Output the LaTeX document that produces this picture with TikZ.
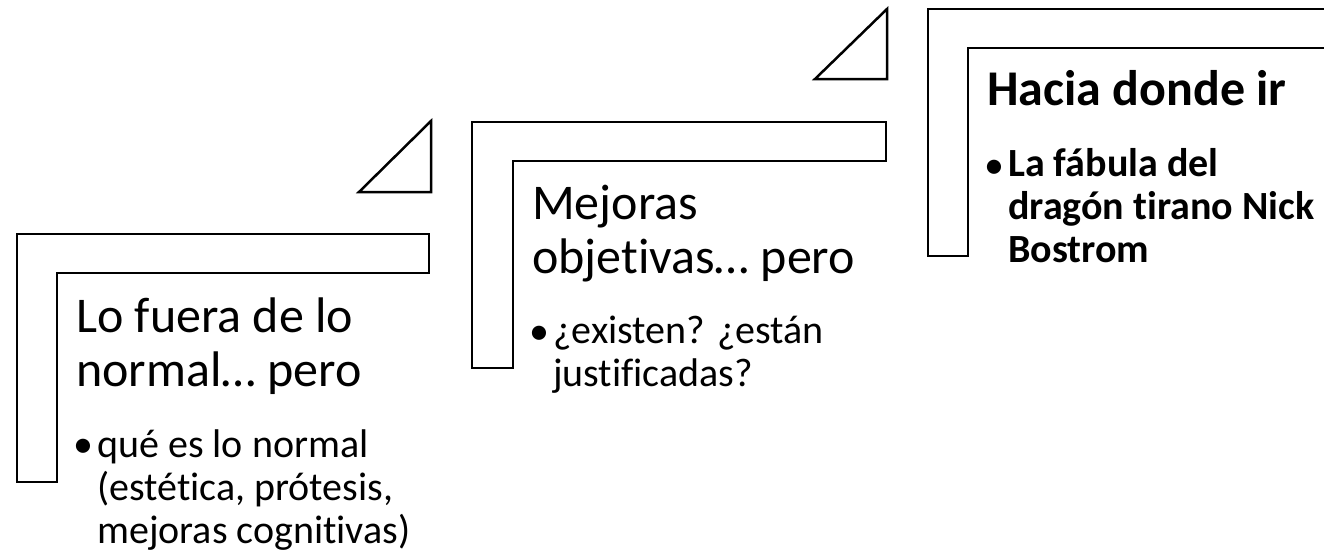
\documentclass[tikz,border=0pt]{standalone}
\usepackage{fontspec}
\setmainfont{Carlito}[Ligatures=NoCommon]
\usetikzlibrary{positioning}

\begin{document}
\begin{tikzpicture}[x=1pt,y=-1pt,% one unit is one pixel of the slide, y runs down
					every node/.style={
						inner sep=0pt,
						align=left,		% so that "\\" breaks the line
						anchor=base west	% base = baseline of the last line
						},
					steptitle/.style={font=\fontsize{50}{54}\selectfont},
					stepitem/.style={font=\fontsize{40}{43}\selectfont},
					stepline/.style={draw=black,line width=2.5pt,line join=miter}
					]
\useasboundingbox (0,0) rectangle (1324,552);
\clip (0,0) rectangle (1324,552);
% the three steps
\path[stepline] (17,234) -- (429,234) -- (429,273) -- (57,273) -- (57,482) -- (17,482) -- cycle;
\path[stepline] (472,122) -- (886,122) -- (886,161) -- (513,161) -- (513,368) -- (472,368) -- cycle;
\path[stepline] (928,9) -- (1340,9) -- (1340,48) -- (968,48) -- (968,256) -- (928,256) -- cycle;
% the small triangles
\path[stepline] (359,192) -- (431,121) -- (431,192) -- cycle;
\path[stepline] (815,79) -- (887,9) -- (887,79) -- cycle;
% texts
\node[steptitle](T1) at (76,386){Lo fuera de lo\\normal… pero};
\node[stepitem](D1) at (73,457){•};
\node[stepitem](I1) at (97,543){qué es lo normal\\(estética, prótesis,\\mejoras cognitivas)};
\node[steptitle](T2) at (532,273){Mejoras\\objetivas… pero};
\node[stepitem](D2) at (529,344){•};
\node[stepitem](I2) at (553,386){¿existen? ¿están\\justificadas?};
\node[steptitle](T3) at (987,105){\bfseries Hacia donde ir};
\node[stepitem](D3) at (984,178){•};
\node[stepitem](I3) at (1008,262){\bfseries La fábula del\\\bfseries dragón tirano Nick\\\bfseries Bostrom};
\end{tikzpicture}
\end{document}
